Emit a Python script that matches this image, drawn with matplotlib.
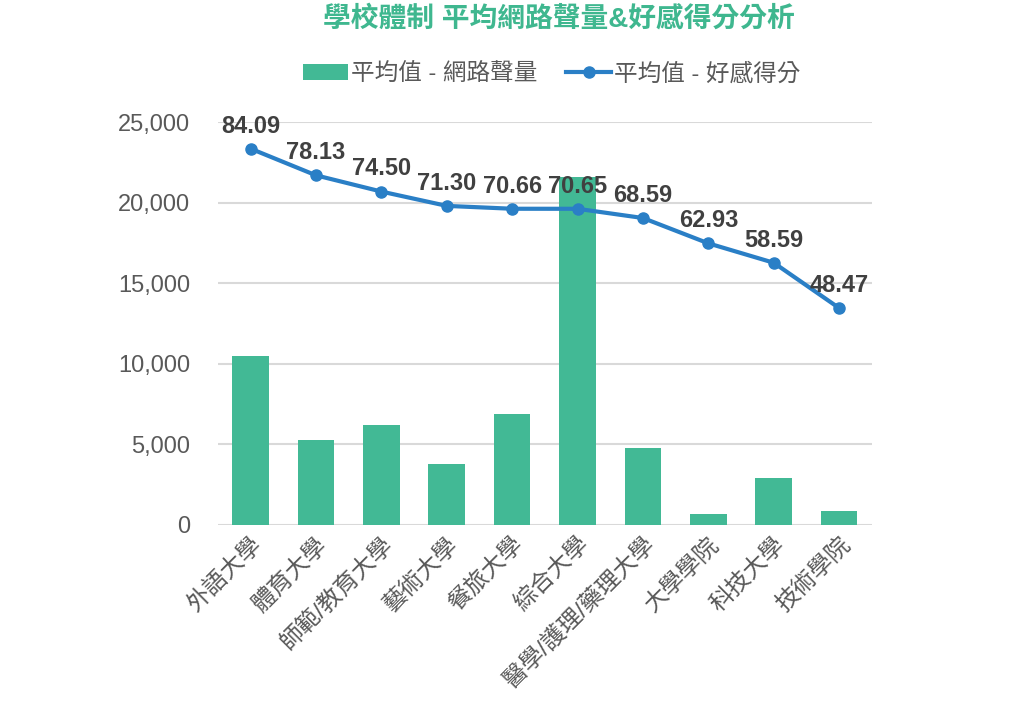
import numpy as np
import matplotlib.pyplot as plt

plt.rcParams['font.family'] = ['Liberation Sans', 'Noto Sans CJK TC', 'DejaVu Sans']

schools = ["外語大學", "體育大學", "師範/教育大學", "藝術大學", "餐旅大學",
           "綜合大學", "醫學/護理/藥理大學", "大學學院", "科技大學", "技術學院"]
volume = [10480, 5290, 6210, 3750, 6890, 21630, 4790, 660, 2940, 840]
score = [84.09, 78.13, 74.50, 71.30, 70.66, 70.65, 68.59, 62.93, 58.59, 48.47]

bar_color = "#42b995"
line_color = "#2a7fc6"
text_color = "#595959"

fig = plt.figure(figsize=(10.09, 7.19), dpi=100)
ax = fig.add_axes([0.216, 0.27, 0.648, 0.56])
x = np.arange(len(schools))

ax.bar(x, volume, width=0.56, color=bar_color, label="平均值 - 網路聲量", zorder=2)
ax.set_ylim(0, 25000)
ax.set_xlim(-0.5, len(schools) - 0.5)
ax.set_yticks(np.arange(0, 25001, 5000))
ax.set_yticklabels([f"{v:,}" for v in range(0, 25001, 5000)])
ax.grid(axis="y", color="#d9d9d9", linewidth=1.5, zorder=0)
for s in ax.spines.values():
    s.set_visible(False)
ax.tick_params(axis="both", length=0, labelsize=17, labelcolor=text_color)
ax.tick_params(axis="y", pad=20)
ax.tick_params(axis="x", pad=6)
ax.set_xticks(x)
ax.set_xticklabels(schools, rotation=45, ha="right", rotation_mode="anchor")

ax2 = ax.twinx()
ax2.set_ylim(0, 90)
ax2.plot(x, score, color=line_color, linewidth=3, marker="o", markersize=8,
         label="平均值 - 好感得分", zorder=3)
ax2.axis("off")
for xi, v in zip(x, score):
    ax2.annotate(f"{v:.2f}", (xi, v), xytext=(0, 8), textcoords="offset points",
                 ha="center", va="bottom", fontsize=17, fontweight="bold", color="#404040")

h1, l1 = ax.get_legend_handles_labels()
h2, l2 = ax2.get_legend_handles_labels()
fig.legend(h1 + h2, l1 + l2, loc="center", bbox_to_anchor=(0.547, 0.897), ncol=2,
           frameon=False, fontsize=17, labelcolor=text_color, handlelength=1.9,
           handletextpad=0.15, columnspacing=1.2)

fig.text(0.554, 0.974, "學校體制 平均網路聲量&好感得分分析", ha="center", va="center",
         fontsize=20, fontweight="bold", color="#3fb78f")

fig.savefig("out.png", dpi=100)
